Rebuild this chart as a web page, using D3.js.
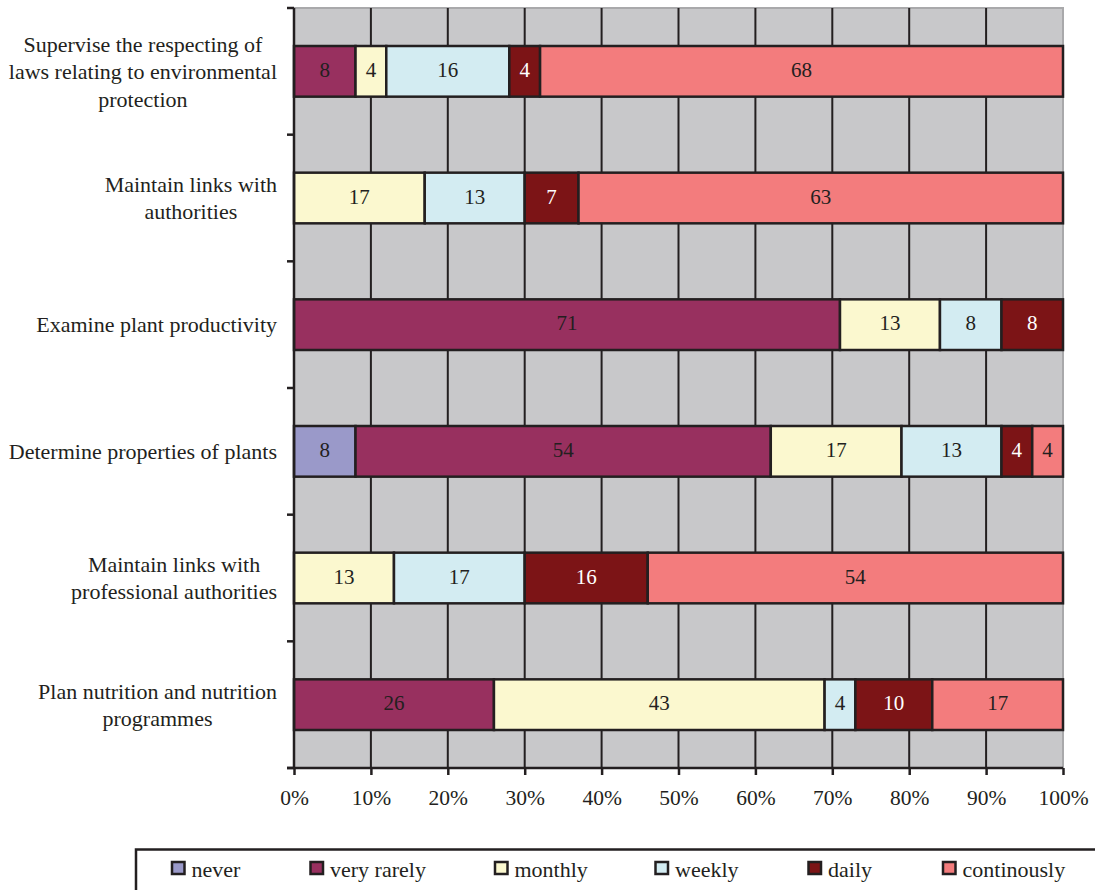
<!DOCTYPE html>
<html><head><meta charset="utf-8">
<script src="https://cdn.jsdelivr.net/npm/d3@7"></script>
<style>body{margin:0;background:#fff;} svg{display:block;font-family:"Liberation Serif","Times New Roman",serif;}</style>
</head><body>
<svg id="c" width="1095" height="890"></svg>
<script>
const categories = [
  ["Supervise the respecting of","laws relating to environmental","protection"],
  ["Maintain links with","authorities"],
  ["Examine plant productivity"],
  ["Determine properties of plants"],
  ["Maintain links with","professional authorities"],
  ["Plan nutrition and nutrition","programmes"]
];
const seriesNames = ["never","very rarely","monthly","weekly","daily","continously"];
const never      = [0, 0, 0, 8, 0, 0];
const veryRarely = [8, 0, 71, 54, 0, 26];
const monthly    = [4, 17, 13, 17, 13, 43];
const weekly     = [16, 13, 8, 13, 17, 4];
const daily      = [4, 7, 8, 4, 16, 10];
const continously= [68, 63, 0, 4, 54, 17];
const tickLabels = ["0%","10%","20%","30%","40%","50%","60%","70%","80%","90%","100%"];
const colors = ["#9a99c9","#98305f","#fbf8cf","#d3ecf2","#7c1416","#f37c7d"];
const textColors = ["#231f20","#231f20","#231f20","#231f20","#fff","#231f20"];

const series = [never, veryRarely, monthly, weekly, daily, continously];
const data = categories.map((c,i)=>{const o={idx:i}; seriesNames.forEach((s,j)=>o[s]=series[j][i]); return o;});

const svg = d3.select("#c");
const X0=294, X1=1063, Y0=8, Y1=768;
const x = d3.scaleLinear().domain([0,100]).range([X0,X1]);
const y = d3.scaleBand().domain(d3.range(categories.length)).range([Y0,Y1]).paddingInner(0.6).paddingOuter(0.3);
const yOuter = d3.scaleBand().domain(d3.range(categories.length)).range([Y0,Y1]);

// background
svg.append("rect").attr("x",X0).attr("y",Y0).attr("width",X1-X0).attr("height",Y1-Y0)
  .attr("fill","#c8c8ca").attr("stroke","#a9a9ab").attr("stroke-width",2);

// vertical grid
svg.append("g").selectAll("line").data(d3.range(10,100,10)).join("line")
  .attr("x1",d=>x(d)).attr("x2",d=>x(d)).attr("y1",Y0).attr("y2",Y1)
  .attr("stroke","#231f20").attr("stroke-width",2);

// bars
const stack = d3.stack().keys(seriesNames)(data);
const g = svg.append("g");
stack.forEach((layer,j)=>{
  layer.forEach((d,i)=>{
    const v = d[1]-d[0];
    if(v<=0) return;
    g.append("rect").attr("x",x(d[0])).attr("y",y(i)).attr("width",x(d[1])-x(d[0])).attr("height",y.bandwidth())
      .attr("fill",colors[j]).attr("stroke","#231f20").attr("stroke-width",2.5);
    g.append("text").attr("x",(x(d[0])+x(d[1]))/2).attr("y",y(i)+y.bandwidth()/2+1)
      .attr("text-anchor","middle").attr("dominant-baseline","middle")
      .attr("font-size",21).attr("fill",textColors[j]).text(v);
  });
});

// x axis
const xAxis = d3.axisBottom(x).tickValues(d3.range(0,101,10)).tickFormat((d,i)=>tickLabels[i]).tickSize(7).tickSizeOuter(0).tickPadding(15);
const xg = svg.append("g").attr("transform",`translate(0,${Y1})`).call(xAxis);
xg.select(".domain").attr("stroke","#231f20").attr("stroke-width",2.5).attr("d",`M${X0-7},0H${X1}`);
xg.selectAll(".tick line").attr("stroke","#231f20").attr("stroke-width",2.5);
xg.selectAll(".tick text").attr("font-size",21.5).attr("fill","#231f20").attr("font-family","Liberation Serif, serif");

// y axis
svg.append("line").attr("x1",X0).attr("x2",X0).attr("y1",Y0).attr("y2",Y1).attr("stroke","#231f20").attr("stroke-width",2.5);
svg.append("g").selectAll("line").data(d3.range(categories.length+1)).join("line")
  .attr("x1",X0-7).attr("x2",X0).attr("y1",d=>Y0+d*yOuter.step()).attr("y2",d=>Y0+d*yOuter.step())
  .attr("stroke","#231f20").attr("stroke-width",2.5);

// category labels
const lh = 27.5;
categories.forEach((lines,i)=>{
  const cy = y(i)+y.bandwidth()/2;
  const t = svg.append("text").attr("font-size",22).attr("fill","#231f20").attr("text-anchor","middle");
  const spans = lines.map((l,k)=>t.append("tspan").text(l));
  const w = d3.max(spans.map(s=>s.node().getComputedTextLength()));
  const cx = 277 - w/2;
  spans.forEach((s,k)=>s.attr("x",cx).attr("y",cy+(k-(lines.length-1)/2)*lh).attr("dy","0.35em"));
});

// legend
svg.append("path").attr("d","M136,892V849.5H1100").attr("fill","none").attr("stroke","#231f20").attr("stroke-width",2.5);
const legX = [172,310.5,495,655.5,808.5,943];
seriesNames.forEach((s,j)=>{
  svg.append("rect").attr("x",legX[j]).attr("y",862).attr("width",12.5).attr("height",12)
    .attr("fill",colors[j]).attr("stroke","#231f20").attr("stroke-width",2.5);
  svg.append("text").attr("x",legX[j]+19.5).attr("y",869).attr("dy","0.35em").attr("font-size",22).attr("fill","#231f20").text(s);
});
</script>
</body></html>
